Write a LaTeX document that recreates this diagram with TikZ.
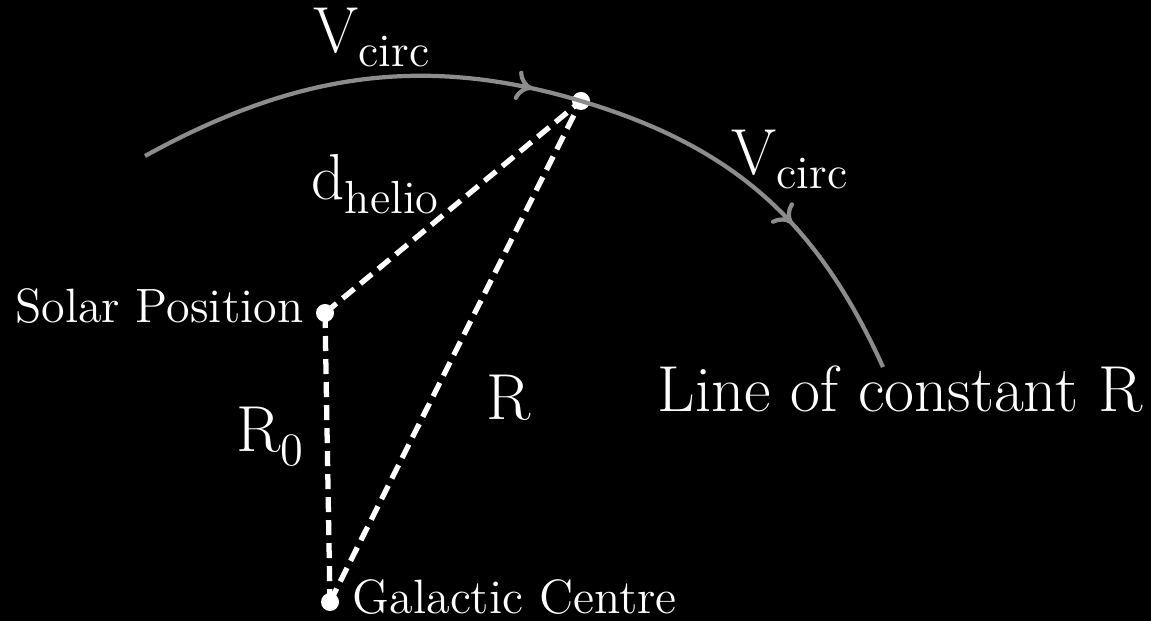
\documentclass[tikz,border=0pt]{standalone}
\usetikzlibrary{arrows.meta,decorations.markings,backgrounds}
\definecolor{arccol}{RGB}{140,140,140}
\newcommand{\mysub}[1]{\raisebox{-0.21em}{\fontsize{13.2}{15}\selectfont #1}}
\tikzset{
  orbit/.style={draw=arccol,line width=1.2pt},
  dashline/.style={draw=white,line width=1.5pt,dash pattern=on 0.15cm off 0.08cm},
  dot/.style={circle,fill=white,inner sep=0pt,minimum size=0.18cm},
  biglab/.style={text=white,inner sep=0pt,font=\fontsize{18.5}{21}\selectfont},
  smalllab/.style={text=white,inner sep=0pt,font=\fontsize{13.7}{16}\selectfont},
}
\begin{document}
\begin{tikzpicture}[x=0.01cm,y=0.01cm]
\useasboundingbox (0,0) rectangle (1151,621);
\begin{scope}[on background layer]
  \fill[black] (0,0) rectangle (1151,621);
\end{scope}
% points
\node[dot] (top) at (581,520) {};
\node[dot] (sun) at (325,308) {};
\node[dot] (gc) at (330,19) {};
\coordinate (ostart) at (145,465);
\coordinate (oend) at (883,254);
% orbit
\draw[orbit,postaction={decorate},
  decoration={markings,
    mark=at position 0.4625 with {\arrow{To[length=4.6pt,width=8.5pt]}},
    mark=at position 0.804 with {\arrow{To[length=4.6pt,width=8.5pt]}}}]
  (ostart) .. controls (292.2,546) and (420,568.2) .. (top.center)
           .. controls (734.3,474.1) and (816.8,399.6) .. (oend);
\begin{scope}[on background layer]
  \draw[dashline] (sun.center) -- (top.center);
  \draw[dashline] (sun.center) -- (gc.center);
  \draw[dashline] (gc.center) -- (top.center);
\end{scope}
% labels
\node[biglab,anchor=base west] (vtop) at (313,568) {V\mysub{circ}};
\node[biglab,anchor=base west] (vright) at (731,446) {V\mysub{circ}};
\node[biglab,anchor=base west] (dhelio) at (311,421) {d\mysub{helio}};
\node[biglab,anchor=base west] (rlab) at (486,201) {R};
\node[biglab,anchor=base west] (rzero) at (236,169) {R\mysub{0}};
\node[biglab,anchor=base west] (constr) at (657,209) {Line of constant R};
\node[smalllab,anchor=base east] (solar) at (304,298) {Solar Position};
\node[smalllab,anchor=base west] (gclab) at (352,8) {Galactic Centre};
\end{tikzpicture}
\end{document}
